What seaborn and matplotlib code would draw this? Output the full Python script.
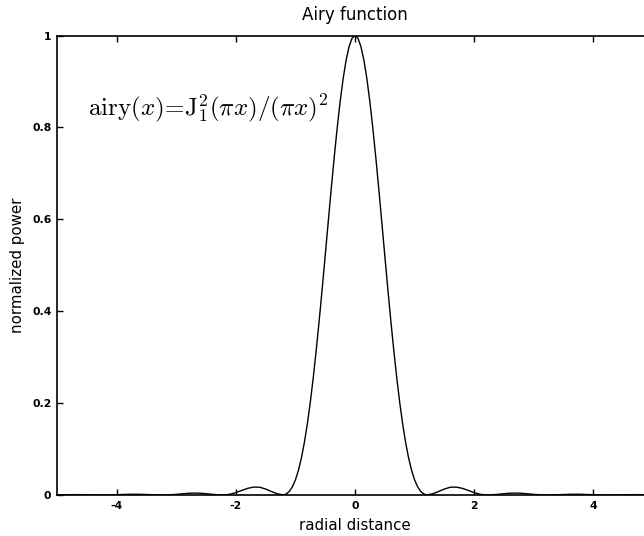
import matplotlib
matplotlib.use("Agg")
import matplotlib.pyplot as plt
import seaborn as sns
import pandas as pd

# Sampled radial intensity profile of the Airy pattern
radial_distance = [
    -5.0, -4.9, -4.8, -4.7, -4.6, -4.5, -4.4, -4.3, -4.2, -4.1,
    -4.0, -3.9, -3.8, -3.7, -3.6, -3.5, -3.4, -3.3, -3.2, -3.1,
    -3.0, -2.9, -2.8, -2.7, -2.6, -2.5, -2.4, -2.3, -2.2, -2.1,
    -2.0, -1.9, -1.8, -1.7, -1.6, -1.5, -1.4, -1.3,
    -1.2, -1.15, -1.1, -1.05, -1.0, -0.95, -0.9, -0.85, -0.8, -0.75,
    -0.7, -0.65, -0.6, -0.55, -0.5, -0.45, -0.4, -0.35, -0.3, -0.25,
    -0.2, -0.15, -0.1, -0.05,
    0.0,
    0.05, 0.1, 0.15, 0.2, 0.25, 0.3, 0.35, 0.4, 0.45, 0.5,
    0.55, 0.6, 0.65, 0.7, 0.75, 0.8, 0.85, 0.9, 0.95, 1.0,
    1.05, 1.1, 1.15, 1.2,
    1.3, 1.4, 1.5, 1.6, 1.7, 1.8, 1.9, 2.0,
    2.1, 2.2, 2.3, 2.4, 2.5, 2.6, 2.7, 2.8, 2.9, 3.0,
    3.1, 3.2, 3.3, 3.4, 3.5, 3.6, 3.7, 3.8, 3.9, 4.0,
    4.1, 4.2, 4.3, 4.4, 4.5, 4.6, 4.7, 4.8, 4.9, 5.0,
]
normalized_power = [
    0.0003, 0.0005, 0.0007, 0.0008, 0.0007, 0.0005, 0.0003, 0.0001, 0.0000, 0.0002,
    0.0006, 0.0011, 0.0015, 0.0016, 0.0015, 0.0011, 0.0006, 0.0002, 0.0000, 0.0005,
    0.0014, 0.0026, 0.0037, 0.0042, 0.0039, 0.0028, 0.0015, 0.0004, 0.0001, 0.0016,
    0.0052, 0.0100, 0.0145, 0.0172, 0.0170, 0.0130, 0.0075, 0.0025,
    0.0002, 0.0025, 0.0081, 0.0180, 0.0328, 0.0534, 0.0803, 0.1139, 0.1544, 0.2018,
    0.2558, 0.3157, 0.3806, 0.4495, 0.5209, 0.5931, 0.6645, 0.7332, 0.7974, 0.8553,
    0.9053, 0.9458, 0.9756, 0.9939,
    1.0000,
    0.9939, 0.9756, 0.9458, 0.9053, 0.8553, 0.7974, 0.7332, 0.6645, 0.5931, 0.5209,
    0.4495, 0.3806, 0.3157, 0.2558, 0.2018, 0.1544, 0.1139, 0.0803, 0.0534, 0.0328,
    0.0180, 0.0081, 0.0025, 0.0002,
    0.0025, 0.0075, 0.0130, 0.0170, 0.0172, 0.0145, 0.0100, 0.0052,
    0.0016, 0.0001, 0.0004, 0.0015, 0.0028, 0.0039, 0.0042, 0.0037, 0.0026, 0.0014,
    0.0005, 0.0000, 0.0002, 0.0006, 0.0011, 0.0015, 0.0016, 0.0015, 0.0011, 0.0006,
    0.0002, 0.0000, 0.0001, 0.0003, 0.0005, 0.0007, 0.0008, 0.0007, 0.0005, 0.0003,
]

x_ticks = [-4, -2, 0, 2, 4]
x_tick_labels = ["-4", "-2", "0", "2", "4"]
y_ticks = [0, 0.2, 0.4, 0.6, 0.8, 1.0]
y_tick_labels = ["0", "0.2", "0.4", "0.6", "0.8", "1"]

df = pd.DataFrame({"radial distance": radial_distance,
                   "normalized power": normalized_power})

sns.set_style("ticks")
plt.rcParams["font.family"] = ["DejaVu Sans"]
plt.rcParams["mathtext.fontset"] = "cm"
plt.rcParams["text.color"] = "black"
plt.rcParams["axes.labelcolor"] = "black"

fig = plt.figure(figsize=(6.44, 5.36), dpi=100)
ax = fig.add_axes([57 / 644, 41 / 536, 596 / 644, 459.5 / 536])

sns.lineplot(data=df, x="radial distance", y="normalized power",
             color="black", linewidth=1.0, ax=ax)

ax.set_xlim(-5, 5)
ax.set_ylim(0, 1)
ax.set_xticks(x_ticks)
ax.set_xticklabels(x_tick_labels)
ax.set_yticks(y_ticks)
ax.set_yticklabels(y_tick_labels)
ax.tick_params(direction="in", length=4, width=1, top=True, right=True,
               labelsize=7.8, colors="black", pad=4)
for lab in ax.get_xticklabels() + ax.get_yticklabels():
    lab.set_fontweight("bold")
for sp in ax.spines.values():
    sp.set_visible(True)
    sp.set_linewidth(1.2)
    sp.set_color("black")

ax.set_title("Airy function", fontsize=12, pad=11, color="black")
ax.set_xlabel("radial distance", fontsize=10.8, labelpad=5, color="black")
ax.set_ylabel("normalized power", fontsize=10.8, labelpad=5, color="black")

ax.text(-4.48, 0.827,
        r"$\mathrm{airy}(x)\!=\!\mathrm{J}_1^2(\pi x)/(\pi x)^2$",
        fontsize=18, va="baseline", ha="left", color="black")

fig.savefig("out.png", dpi=100)
